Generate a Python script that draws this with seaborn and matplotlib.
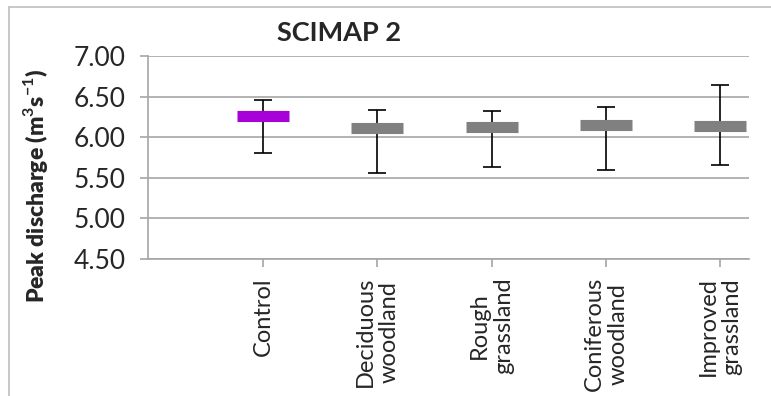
import matplotlib
matplotlib.use('Agg')
import matplotlib.pyplot as plt
from matplotlib.lines import Line2D
import numpy as np
import seaborn as sns

categories = ['Control', 'Deciduous\nwoodland', 'Rough\ngrassland',
              'Coniferous\nwoodland', 'Improved\ngrassland']
means = [6.26, 6.11, 6.13, 6.15, 6.14]
upper = [6.46, 6.34, 6.32, 6.37, 6.64]
lower = [5.80, 5.56, 5.63, 5.59, 5.66]
colors = ['#A800D8', '#808080', '#808080', '#808080', '#808080']
yticks = [4.5, 5.0, 5.5, 6.0, 6.5, 7.0]

sns.set_style('white')
plt.rcParams['font.family'] = ['Lato', 'DejaVu Sans']
plt.rcParams['mathtext.fontset'] = 'custom'
plt.rcParams['mathtext.rm'] = 'Lato'
plt.rcParams['mathtext.bf'] = 'Lato:bold'

fig = plt.figure(figsize=(7.71, 3.96), dpi=100)
ax = fig.add_axes([148 / 771, 1 - 259 / 396, 601 / 771, 203 / 396])

grid_col = '#A6A6A6'

# error bars first, markers drawn on top
m = np.array(means)
yerr = [m - np.array(lower), np.array(upper) - m]
ax.errorbar(range(len(categories)), means, yerr=yerr, fmt='none',
            ecolor='black', elinewidth=1.2, capsize=6.5, capthick=1.2, zorder=3)

sns.pointplot(x=categories, y=means, hue=categories, palette=colors,
              markers='_', linestyles='none', errorbar=None, legend=False,
              markersize=37, markeredgewidth=8, ax=ax, zorder=4)

ax.set_ylim(4.5, 7.0)
ax.set_xlim(-1.006, 4.252)
ax.set_yticks(yticks)
ax.set_yticklabels([f'{v:.2f}' for v in yticks], fontsize=19)
ax.set_xticks(range(len(categories)))
ax.set_xticklabels(categories, rotation=90, fontsize=17, va='top',
                   ha='center', multialignment='center', linespacing=1.15)
ax.yaxis.grid(True, color=grid_col, linewidth=1.2)
ax.set_axisbelow(True)
for side in ['top', 'right']:
    ax.spines[side].set_visible(False)
for side in ['left', 'bottom']:
    ax.spines[side].set_color(grid_col)
    ax.spines[side].set_linewidth(1.2)
ax.tick_params(axis='both', which='major', length=6, width=1.2,
               color=grid_col, left=True, bottom=True)
ax.tick_params(axis='y', pad=10)
ax.tick_params(axis='x', pad=7)

ax.set_xlabel('')
ax.set_ylabel(r'Peak discharge (m$^\mathbf{3}$s$^\mathbf{-1}$)',
              fontsize=16.5, fontweight='heavy')
ax.yaxis.set_label_coords((50 - 148) / 601, 0.36)

fig.text(339 / 771, 1 - 33 / 396, 'SCIMAP 2', ha='center', va='center',
         fontsize=19.5, fontweight='bold')

# outer chart border (cropped on the right and bottom)
fig.add_artist(Line2D([9 / 771, 9 / 771], [0, 1 - 7 / 396],
                      color='#BFBFBF', linewidth=1.2))
fig.add_artist(Line2D([9 / 771, 1], [1 - 7 / 396, 1 - 7 / 396],
                      color='#BFBFBF', linewidth=1.2))

fig.savefig('out.png', dpi=100)
